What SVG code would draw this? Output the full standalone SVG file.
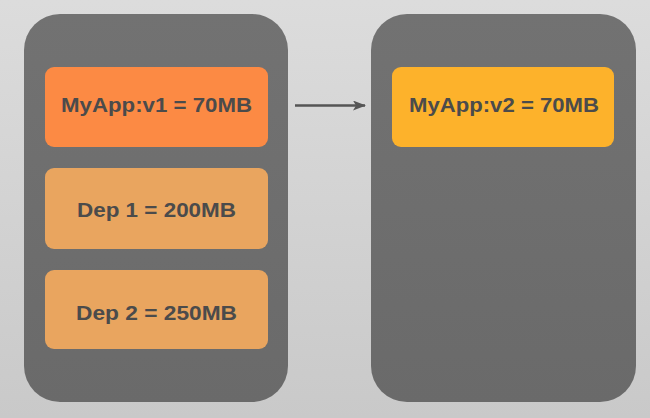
<svg xmlns="http://www.w3.org/2000/svg" width="650" height="418" viewBox="0 0 650 418">
  <defs>
    <linearGradient id="bg" x1="0" y1="0" x2="0" y2="1">
      <stop offset="0" stop-color="#dcdcdc"/>
      <stop offset="1" stop-color="#c9c9c9"/>
    </linearGradient>
    <linearGradient id="cont" x1="0" y1="0" x2="0" y2="1">
      <stop offset="0" stop-color="#727272"/>
      <stop offset="1" stop-color="#6a6a6a"/>
    </linearGradient>
    <marker id="arrow" viewBox="0 0 13 10" refX="12" refY="5" markerWidth="13" markerHeight="10" orient="auto" markerUnits="userSpaceOnUse">
      <path d="M0,0 L13,5 L0,10 L3,5 Z" fill="#555555"/>
    </marker>
    <style>
      .container { fill: url(#cont); }
      .label { font-family: "Liberation Sans", Arial, sans-serif; font-weight: bold; font-size: 20.5px; fill: #4b4b4b; text-anchor: middle; }
      .conn { stroke: #555555; stroke-width: 2.5; fill: none; }
    </style>
  </defs>
  <rect width="650" height="418" fill="url(#bg)"/>

  <g id="container-left">
    <rect class="container" x="24" y="14" width="264" height="388" rx="36" ry="36"/>
  </g>
  <g id="container-right">
    <rect class="container" x="371" y="14" width="265" height="388" rx="36" ry="36"/>
  </g>

  <g id="myapp-v1">
    <rect x="45" y="67" width="223" height="80" rx="9" fill="#fc8a44"/>
    <text class="label" x="156.5" y="112" textLength="191" lengthAdjust="spacingAndGlyphs">MyApp:v1 = 70MB</text>
  </g>
  <g id="dep1">
    <rect x="45" y="168" width="223" height="81" rx="9" fill="#e9a55f"/>
    <text class="label" x="156.5" y="217" textLength="159" lengthAdjust="spacingAndGlyphs">Dep 1 = 200MB</text>
  </g>
  <g id="dep2">
    <rect x="45" y="270" width="223" height="79" rx="9" fill="#e9a55f"/>
    <text class="label" x="156.5" y="320" textLength="161" lengthAdjust="spacingAndGlyphs">Dep 2 = 250MB</text>
  </g>
  <g id="myapp-v2">
    <rect x="392" y="67" width="222" height="80" rx="9" fill="#fdb22b"/>
    <text class="label" x="504" y="112" textLength="190" lengthAdjust="spacingAndGlyphs">MyApp:v2 = 70MB</text>
  </g>

  <g id="connectors">
    <line class="conn" x1="295" y1="105.5" x2="365" y2="105.5" marker-end="url(#arrow)"/>
  </g>
</svg>
